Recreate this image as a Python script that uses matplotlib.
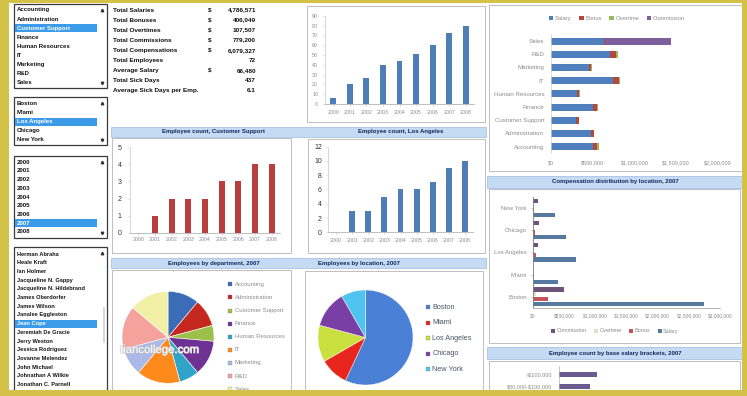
import numpy as np
import matplotlib.pyplot as plt
import matplotlib.patheffects as pe
from matplotlib.patches import Rectangle

plt.rcParams['font.family'] = ['Liberation Sans', 'DejaVu Sans']
plt.rcParams['text.parse_math'] = False

W, H = 747, 396

# list boxes
departments = ['Accounting', 'Administration', 'Customer Support', 'Finance',
               'Human Resources', 'IT', 'Marketing', 'R&D', 'Sales']
locations = ['Boston', 'Miami', 'Los Angeles', 'Chicago', 'New York']
years = ['2000', '2001', '2002', '2003', '2004', '2005', '2006', '2007', '2008']
employees = ['Herman Abraha', 'Heale Kraft', 'Ian Holmer', 'Jacqueline N. Gappy',
             'Jacqueline N. Hildebrand', 'James Oberdorfer', 'James Wilson',
             'Janalee Eggleston', 'Jean Cope', 'Jeremiah De Gracie', 'Jerry Weston',
             'Jessica Rodriguez', 'Jovanne Melendez', 'John Michael',
             'Johnathan A Wilkie', 'Jonathan C. Parnell']

# summary table
kpi_labels = ['Total Salaries', 'Total Bonuses', 'Total Overtimes', 'Total Commissions',
              'Total Compensations', 'Total Employees', 'Average Salary',
              'Total Sick Days', 'Average Sick Days per Emp.']
kpi_values = ['4,786,571', '406,049', '107,507', '779,200', '6,079,327',
              '72', '66,480', '437', '6.1']
kpi_dollar = [True, True, True, True, True, False, True, False, False]

# employee counts per year
total_by_year = [6, 20, 26, 40, 44, 51, 60, 72, 80]
cs_by_year = [0, 1, 2, 2, 2, 3, 3, 4, 4]
la_by_year = [0, 3, 3, 5, 6, 6, 7, 9, 10]

# pies, 2007
dept_count = [8, 7, 4, 9, 5, 11, 7, 11, 10]
dept_colors = ['#3a6cb8', '#c4281f', '#9cc04a', '#6f3294', '#2fa3c8',
               '#ff8a1c', '#aab9e6', '#f4a29b', '#f2f0a6']
loc_count = [41, 7, 9, 9, 6]
loc_colors = ['#4a80d6', '#e8261d', '#c9e03e', '#7a3fa5', '#4fc4f0']

# compensation by department (Accounting .. Sales)
comp_series = ['Salary', 'Bonus', 'Overtime', 'Commission']
dept_salary = [500000, 480000, 300000, 500000, 310000, 740000, 450000, 710000, 630000]
dept_bonus = [50000, 35000, 30000, 45000, 30000, 70000, 35000, 70000, 20000]
dept_overtime = [20000, 5000, 10000, 15000, 10000, 20000, 5000, 20000, 0]
dept_commission = [0, 0, 0, 0, 0, 0, 0, 0, 790000]
comp_colors = ['#4f7fbd', '#b5473f', '#9bbb59', '#7d5f9c']

# compensation by location (Boston .. New York)
loc_salary = [2740000, 410000, 700000, 540000, 360000]
loc_bonus = [240000, 20000, 60000, 30000, 20000]
loc_overtime = [50000, 5000, 10000, 5000, 5000]
loc_commission = [500000, 0, 90000, 100000, 80000]
loc_comp_colors = ['#55799f', '#c2565a', '#e2dccb', '#6e5478']

# salary brackets
brackets = ['$80,000-$100,000', '>$100,000']
bracket_count = [9, 11]


def box(x0, y0, x1, y1):
    # pixel rectangle -> figure fraction
    return [x0 / W, 1 - y1 / H, (x1 - x0) / W, (y1 - y0) / H]


fig = plt.figure(figsize=(W / 100, H / 100), dpi=100, facecolor='white')
bg = fig.add_axes([0, 0, 1, 1])
bg.set_xlim(0, W)
bg.set_ylim(H, 0)
bg.axis('off')


def listbox(items, selected, y0, y1, first, step, size):
    bg.add_patch(Rectangle((14, y0), 93, y1 - y0, fc='white', ec='#3a3a3a', lw=0.9))
    for i, s in enumerate(items):
        y = first + i * step
        if s == selected:
            bg.add_patch(Rectangle((15, y - step / 2 + 0.4), 81.7, step - 0.8,
                                   fc='#3b9be8', ec='none'))
        bg.text(17, y, s, fontsize=size, weight='bold', va='center',
                color='white' if s == selected else '#151515')
    bg.plot([101.5], [y0 + 6], marker='^', ms=1.8, color='#333333')
    if y1 < H:
        bg.plot([101.5], [y1 - 5], marker='v', ms=1.8, color='#333333')


listbox(departments, 'Customer Support', 3.5, 87.5, 10, 9.04, 4.3)
listbox(locations, 'Los Angeles', 97.3, 144.5, 103.7, 8.95, 4.3)
listbox(years, '2007', 156, 237.5, 162.3, 8.68, 4.4)
listbox(employees, 'Jean Cope', 247.3, 402, 254, 8.7, 4.1)
bg.plot([104, 104], [308, 342], color='#d0d0d0', lw=1.2)

# summary table
for i, (lab, val, dol) in enumerate(zip(kpi_labels, kpi_values, kpi_dollar)):
    y = 10 + i * 10.04
    bg.text(113, y, lab, fontsize=4.6, weight='bold', va='center', color='#111111')
    if dol:
        bg.text(208, y, '$', fontsize=4.6, weight='bold', va='center', color='#111111')
    bg.text(256, y, val, fontsize=4.6, weight='bold', va='center', ha='right', color='#111111')

# chart frames
for x0, y0, x1, y1 in [(307, 6, 485, 122), (112, 138, 291, 253), (308, 139, 485, 253),
                       (112, 270, 291, 402), (305, 271, 483, 402), (489, 5, 742, 171),
                       (489, 189, 740, 343), (489, 361, 740, 402)]:
    bg.add_patch(Rectangle((x0, y0), x1 - x0, y1 - y0, fc='white', ec='#b4b4b4', lw=0.6))

# header bands
for x0, x1, y0, y1 in [(111, 486, 126.5, 136.5), (111, 486, 258, 268),
                       (487, 742, 175.5, 187.5), (487, 742, 347, 359)]:
    bg.add_patch(Rectangle((x0, y0), x1 - x0, y1 - y0, fc='#c5daf3', ec='#9dbbe0', lw=0.5))

titles = [('Employee count, Customer Support', 213, 131.5),
          ('Employee count, Los Angeles', 401, 131.5),
          ('Employees by department, 2007', 214, 263),
          ('Employees by location, 2007', 359, 263),
          ('Compensation distribution by location, 2007', 615, 181.5),
          ('Employee count by base salary brackets, 2007', 615, 353)]
for t, x, y in titles:
    bg.text(x, y, t, fontsize=4.3, weight='bold', ha='center', va='center', color='#102a5c')


def year_chart(rect, values, color, ymax, ystep, ysize, ycolor, ypad, xpad):
    ax = fig.add_axes(box(*rect))
    x = np.arange(len(years))
    ax.bar(x, values, width=0.36, color=color)
    ax.set_xlim(-0.5, len(years) - 0.5)
    ax.set_ylim(0, ymax)
    ax.set_yticks(range(0, ymax + 1, ystep))
    ax.set_xticks(x, years)
    ax.set_facecolor('none')
    for s in ['top', 'right']:
        ax.spines[s].set_visible(False)
    ax.spines['left'].set_color('#c8c8c8')
    ax.spines['left'].set_linewidth(0.5)
    ax.spines['bottom'].set_color('#b4b4b4')
    ax.spines['bottom'].set_linewidth(0.6)
    ax.tick_params(axis='x', labelsize=3.8, colors='#b4b4b4', labelcolor='#8c8c8c',
                   length=1.2, width=0.4, pad=xpad)
    ax.tick_params(axis='y', labelsize=ysize, colors='#c8c8c8', labelcolor=ycolor,
                   length=1.2, width=0.4, pad=ypad)
    return ax


year_chart((325, 15.7, 474, 104), total_by_year, '#4f7db6', 90, 10, 3.8, '#8c8c8c', 3.8, 3)
year_chart((130, 147.3, 280, 232.7), cs_by_year, '#b83f3d', 5, 1, 5, '#333333', 5, 2.2)
year_chart((328, 146.7, 473, 232.3), la_by_year, '#4f7db6', 12, 2, 5, '#333333', 3.2, 3)

# compensation by department
ax = fig.add_axes(box(551, 34.4, 718, 153.3))
y = np.arange(len(departments))
left = np.zeros(len(departments))
for name, vals, col in zip(comp_series, [dept_salary, dept_bonus, dept_overtime, dept_commission],
                           comp_colors):
    ax.barh(y, vals, left=left, height=0.53, color=col, label=name)
    left += np.array(vals)
ax.set_xlim(0, 2e6)
ax.set_ylim(-0.5, len(departments) - 0.5)
ax.set_xticks([0, 5e5, 1e6, 1.5e6, 2e6],
              ['$0', '$500,000', '$1,000,000', '$1,500,000', '$2,000,000'])
ax.set_yticks(y, departments)
ax.set_facecolor('none')
for s in ['top', 'right', 'bottom']:
    ax.spines[s].set_visible(False)
ax.spines['left'].set_color('#d0d0d0')
ax.spines['left'].set_linewidth(0.5)
ax.tick_params(axis='x', labelsize=4, labelcolor='#8c8c8c', length=0, pad=5)
ax.tick_params(axis='y', labelsize=4.4, labelcolor='#8c8c8c', length=0, pad=4.8)
ax.legend(loc='center', bbox_to_anchor=(617 / W, 1 - 18.3 / H), bbox_transform=fig.transFigure,
          ncol=4, frameon=False, fontsize=4.2, labelcolor='#8c8c8c', handlelength=0.7,
          handleheight=0.7, handletextpad=0.3, columnspacing=1.3)

# compensation by location
ax = fig.add_axes(box(532.7, 196.9, 720, 307.8))
y = np.arange(len(locations))
series = [loc_salary, loc_bonus, loc_overtime, loc_commission]
handles = []
for i, (name, vals, col) in enumerate(zip(comp_series, series, loc_comp_colors)):
    handles.append(ax.barh(y + (i - 1.5) * 0.215, vals, height=0.19, color=col, label=name))
ax.set_xlim(0, 3e6)
ax.set_ylim(-0.5, len(locations) - 0.5)
ax.set_xticks(np.arange(0, 3.01e6, 5e5),
              ['$0', '$500,000', '$1,000,000', '$1,500,000', '$2,000,000', '$2,500,000', '$3,000,000'])
ax.set_yticks(y, locations)
ax.set_facecolor('none')
for s in ['top', 'right']:
    ax.spines[s].set_visible(False)
ax.spines['left'].set_color('#808080')
ax.spines['left'].set_linewidth(0.6)
ax.spines['bottom'].set_color('#a8a8a8')
ax.spines['bottom'].set_linewidth(0.6)
ax.tick_params(axis='x', labelsize=3.5, labelcolor='#8c8c8c', length=0, pad=4)
ax.tick_params(axis='y', labelsize=4.3, labelcolor='#8c8c8c', colors='#a0a0a0',
               length=1.2, width=0.4, pad=3)
ax.legend(handles=handles[::-1], loc='center', bbox_to_anchor=(615 / W, 1 - 331 / H),
          bbox_transform=fig.transFigure, ncol=4, frameon=False, fontsize=4,
          labelcolor='#8c8c8c', handlelength=0.7, handleheight=0.7, handletextpad=0.3,
          columnspacing=1.3)

# salary brackets
ax = fig.add_axes(box(558.5, 366, 735, 396))
ax.barh(np.arange(len(brackets)), bracket_count, height=0.4, color='#6b5b8e')
ax.set_xlim(0, 50)
ax.set_ylim(-0.75, 1.67)
ax.set_xticks([])
ax.set_yticks(np.arange(len(brackets)), brackets)
ax.set_facecolor('none')
for s in ['top', 'right', 'bottom']:
    ax.spines[s].set_visible(False)
ax.spines['left'].set_color('#b0b0b0')
ax.spines['left'].set_linewidth(0.5)
ax.tick_params(axis='y', labelsize=4, labelcolor='#8c8c8c', length=0, pad=4.5)

# department pie
ax = fig.add_axes(box(122, 291.3, 214, 383.3))
ax.pie(dept_count, colors=dept_colors, startangle=90, counterclock=False,
       wedgeprops=dict(edgecolor='white', linewidth=0.4))
ax.set_xlim(-1, 1)
ax.set_ylim(-1, 1)
for i, (name, col) in enumerate(zip(departments, dept_colors)):
    yy = 284.3 + i * 13.1
    bg.plot([230.3], [yy], marker='s', ms=2.2, color=col, mec='#777777', mew=0.2)
    bg.text(234.7, yy, name, fontsize=4.3, va='center', color='#8c8c8c')

# location pie
ax = fig.add_axes(box(318, 290, 413, 385))
ax.pie(loc_count, colors=loc_colors, startangle=90, counterclock=False,
       wedgeprops=dict(edgecolor='white', linewidth=0.3))
ax.set_xlim(-1, 1)
ax.set_ylim(-1, 1)
for i, (name, col) in enumerate(zip(locations, loc_colors)):
    yy = 307.3 + i * 15.5
    bg.plot([428.3], [yy], marker='s', ms=2.8, color=col, mec='#777777', mew=0.2)
    bg.text(432.5, yy, name, fontsize=5.2, va='center', color='#4a5568')

# watermark over the pie
wm = fig.text(120 / W, 1 - 350 / H, 'tiancollege.com', fontsize=8.2, color='white', alpha=0.95,
              va='center', zorder=5)
wm.set_path_effects([pe.withStroke(linewidth=0.8, foreground='#c8c8c8')])

# yellow frame
yellow = '#d4c147'
for x0, y0, w, h in [(0, 0, 8.5, H), (0, 0, W, 3), (741.5, 0, 5.5, H), (0, 390, W, 6)]:
    fig.add_artist(Rectangle((x0 / W, 1 - (y0 + h) / H), w / W, h / H,
                             transform=fig.transFigure, fc=yellow, ec='none', zorder=10))

fig.savefig('out.png', dpi=100, facecolor='white')
